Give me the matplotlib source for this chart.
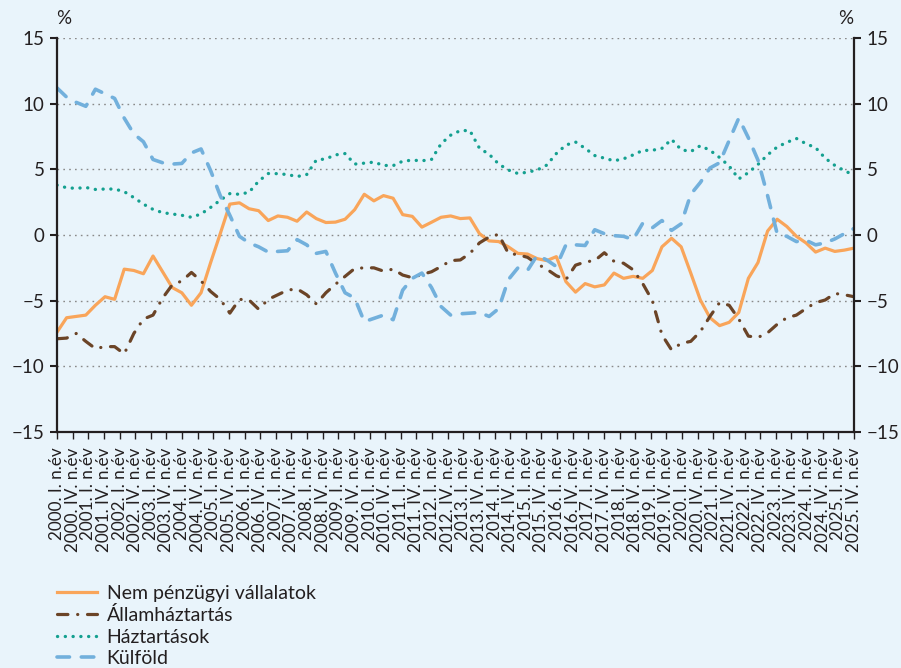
import numpy as np
import matplotlib
matplotlib.use("Agg")
import matplotlib.pyplot as plt

plt.rcParams['font.family'] = ['Lato', 'DejaVu Sans']
plt.rcParams['lines.scale_dashes'] = False

# quarterly series, %
nem_penzugyi = [-7.4, -6.3, -6.2, -6.1, -5.35, -4.7, -4.9, -2.6, -2.7, -2.95,
                -1.6, -2.8, -4.0, -4.4, -5.35, -4.4, -2.1, 0.1, 2.35, 2.45,
                2.0, 1.85, 1.1, 1.45, 1.35, 1.05, 1.75, 1.25, 0.95, 0.98,
                1.2, 1.93, 3.1, 2.6, 3.0, 2.8, 1.55, 1.42, 0.6, 0.97,
                1.35, 1.45, 1.25, 1.3, 0.1, -0.45, -0.5, -0.9, -1.4, -1.45,
                -1.8, -1.95, -1.65, -3.55, -4.35, -3.7, -3.95, -3.8, -2.9, -3.3,
                -3.15, -3.3, -2.7, -0.9, -0.25, -0.9, -2.9, -4.95, -6.3, -6.9,
                -6.65, -5.9, -3.3, -2.1, 0.3, 1.2, 0.65, -0.1, -0.6, -1.3,
                -1.0, -1.25, -1.15, -1.0]
allamhaztartas = [-7.9, -7.85, -7.5, -8.1, -8.65, -8.5, -8.5, -9.05, -7.5, -6.4,
                  -6.1, -4.8, -3.8, -3.5, -2.85, -3.5, -4.3, -4.9, -5.95, -4.9,
                  -4.95, -5.65, -4.9, -4.55, -4.2, -4.1, -4.55, -5.25, -4.4, -3.75,
                  -3.15, -2.55, -2.5, -2.5, -2.75, -2.6, -3.05, -3.25, -3.0, -2.8,
                  -2.4, -1.95, -1.9, -1.4, -0.6, -0.15, 0.05, -1.4, -1.5, -1.7,
                  -2.2, -2.6, -3.1, -3.4, -2.3, -2.05, -1.95, -1.35, -2.0, -2.15,
                  -2.65, -3.7, -5.0, -7.6, -8.75, -8.25, -8.1, -7.35, -6.2, -5.15,
                  -5.35, -6.4, -7.7, -7.8, -7.45, -6.8, -6.3, -6.1, -5.6, -5.15,
                  -4.95, -4.45, -4.55, -4.7]
haztartasok = [3.8, 3.6, 3.55, 3.62, 3.47, 3.5, 3.5, 3.3, 2.85, 2.35,
               1.95, 1.7, 1.6, 1.5, 1.35, 1.6, 2.1, 2.65, 3.15, 3.1,
               3.25, 4.1, 4.68, 4.67, 4.6, 4.45, 4.6, 5.7, 5.8, 6.1,
               6.2, 5.4, 5.47, 5.55, 5.3, 5.28, 5.62, 5.7, 5.65, 5.75,
               6.95, 7.6, 7.95, 7.95, 6.6, 6.15, 5.4, 4.95, 4.68, 4.78,
               4.95, 5.32, 6.2, 6.85, 7.08, 6.6, 6.05, 5.85, 5.65, 5.8,
               6.1, 6.44, 6.45, 6.6, 7.28, 6.5, 6.35, 6.8, 6.45, 5.9,
               5.25, 4.27, 4.75, 5.37, 6.1, 6.7, 7.05, 7.35, 6.95, 6.65,
               5.85, 5.3, 4.9, 4.55]
kulfold = [11.2, 10.5, 10.1, 9.8, 11.1, 10.75, 10.4, 8.9, 7.7, 7.1,
           5.75, 5.5, 5.4, 5.45, 6.25, 6.55, 4.9, 3.0, 1.5, -0.1,
           -0.6, -0.9, -1.3, -1.25, -1.2, -0.35, -0.75, -1.4, -1.25, -2.9,
           -4.4, -4.8, -6.6, -6.35, -6.1, -6.45, -4.2, -3.3, -2.9, -4.0,
           -5.45, -6.1, -6.0, -5.95, -5.9, -6.2, -5.6, -3.4, -2.5, -2.7,
           -1.55, -1.9, -2.4, -0.75, -0.75, -0.8, 0.4, 0.1, -0.05, -0.1,
           -0.35, 0.9, 0.55, 1.1, 0.35, 0.85, 3.1, 4.0, 5.1, 5.5,
           7.2, 8.9, 7.4, 5.7, 3.0, 0.1, -0.1, -0.5, -0.4, -0.75,
           -0.6, -0.3, 0.1, 0.5]

years = list(range(2000, 2026))
tick_labels = []
for y in years:
    tick_labels.append(f"{y}. I. n.év")
    tick_labels.append(f"{y}. IV. n.év")

bg = '#e9f4fb'
txt = '#231f20'

fig = plt.figure(figsize=(9.01, 6.68), dpi=100, facecolor=bg)
ax = fig.add_axes([57/901, 1 - 432/668, (854 - 57)/901, (432 - 38)/668])
ax.set_facecolor(bg)

x = np.arange(len(nem_penzugyi))
ax.plot(x, nem_penzugyi, color='#f9a55a', lw=2.3, solid_joinstyle='round',
        label='Nem pénzügyi vállalatok')
ax.plot(x, allamhaztartas, color='#6b4427', lw=2.3, linestyle=(0, (7.5, 7, 0.1, 7)),
        dash_capstyle='round', label='Államháztartás')
ax.plot(x, haztartasok, color='#14a090', lw=2.4, linestyle=(0, (0.1, 5.5)),
        dash_capstyle='round', label='Háztartások')
ax.plot(x, kulfold, color='#72b0dc', lw=2.6, linestyle=(0, (9, 8.5)),
        dash_capstyle='round', label='Külföld')

ax.set_xlim(0, len(x) - 1)
ax.set_ylim(-15, 15)
ax.set_yticks(range(-15, 16, 5))
ax.yaxis.grid(True, linestyle=(0, (1.2, 3)), color='#8a8a8a', lw=1)
ax.set_axisbelow(True)

ax.set_xticks(np.linspace(0, len(x) - 1, len(tick_labels)))
ax.set_xticklabels(tick_labels, rotation=90, fontsize=12.3, color=txt)

for s in ['left', 'right', 'bottom']:
    ax.spines[s].set_color(txt)
    ax.spines[s].set_linewidth(1.6)
ax.spines['top'].set_visible(False)

ax.tick_params(axis='y', which='both', left=True, right=True, labelleft=True,
               labelright=True, direction='out', length=5, width=1.5,
               labelsize=13.5, labelcolor=txt, color=txt, pad=4)
ax.tick_params(axis='x', direction='out', length=5, width=1, color=txt, pad=6)

fig.text(64/901, 1 - 19/668, '%', ha='center', va='center', fontsize=13.5, color=txt)
fig.text(846/901, 1 - 19/668, '%', ha='center', va='center', fontsize=13.5, color=txt)

fig.legend(loc='upper left', bbox_to_anchor=(57/901, 1 - 585/668), frameon=False,
           fontsize=14, handlelength=2.05, handletextpad=0.5, labelspacing=0.22,
           borderpad=0, borderaxespad=0, labelcolor=txt)

fig.savefig('out.png', dpi=100, facecolor=bg)
